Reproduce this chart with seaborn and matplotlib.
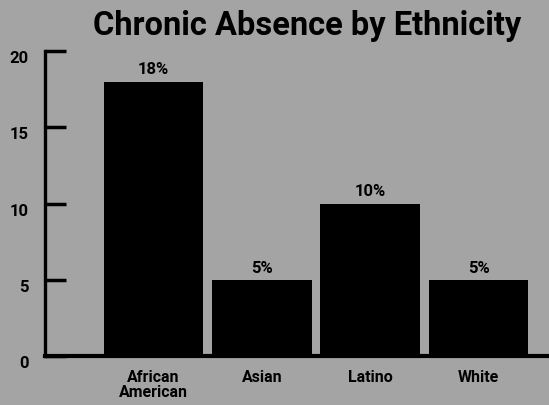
import matplotlib
matplotlib.use("Agg")
import matplotlib.pyplot as plt
import seaborn as sns
import pandas as pd

# Chronic absence rate (%) by ethnicity
categories = ["African\nAmerican", "Asian", "Latino", "White"]
values = [18, 5, 10, 5]
value_labels = ["18%", "5%", "10%", "5%"]
y_ticks = [0, 5, 10, 15, 20]

df = pd.DataFrame({"group": categories, "rate": values})

sns.set_theme(style="white")
bg = "#a4a4a4"
plt.rcParams["font.family"] = ["Roboto", "DejaVu Sans"]
plt.rcParams["text.color"] = "black"
plt.rcParams["xtick.color"] = "black"
plt.rcParams["ytick.color"] = "black"

fig = plt.figure(figsize=(5.49, 4.05), dpi=100, facecolor=bg)
ax = fig.add_axes([0.082, 0.121, 0.918, 0.753])
ax.set_facecolor(bg)

sns.barplot(data=df, x="group", y="rate", color="black", width=0.92,
            saturation=1, edgecolor="black", linewidth=0, ax=ax)

for patch, lab in zip(ax.patches, value_labels):
    ax.annotate(lab, (patch.get_x() + patch.get_width() / 2, patch.get_height()),
                xytext=(0, 3), textcoords="offset points",
                ha="center", va="bottom", fontsize=12, fontweight="bold",
                color="black")

ax.set_xlim(-1.0, 3.65)
ax.set_ylim(0, 20)
ax.set_yticks(y_ticks)
ax.set_yticklabels([str(t) for t in y_ticks], fontsize=12, fontweight="bold",
                   va="top", color="black")
ax.tick_params(axis="y", direction="in", length=15, width=2.5, color="black",
               pad=12, left=True)
ax.tick_params(axis="x", length=0, pad=10, labelsize=11.5)
for lbl in ax.get_xticklabels():
    lbl.set_fontweight("bold")
    lbl.set_linespacing(1.0)
    lbl.set_color("black")

ax.set_xlabel("")
ax.set_ylabel("")
for side in ["top", "right"]:
    ax.spines[side].set_visible(False)
ax.spines["left"].set_linewidth(2.4)
ax.spines["bottom"].set_linewidth(3)
ax.spines["left"].set_color("black")
ax.spines["bottom"].set_color("black")

fig.text(0.56, 0.914, "Chronic Absence by Ethnicity", ha="center", va="baseline",
         fontsize=23.5, fontweight="bold", color="black")

fig.savefig("out.png", dpi=100, facecolor=bg)
